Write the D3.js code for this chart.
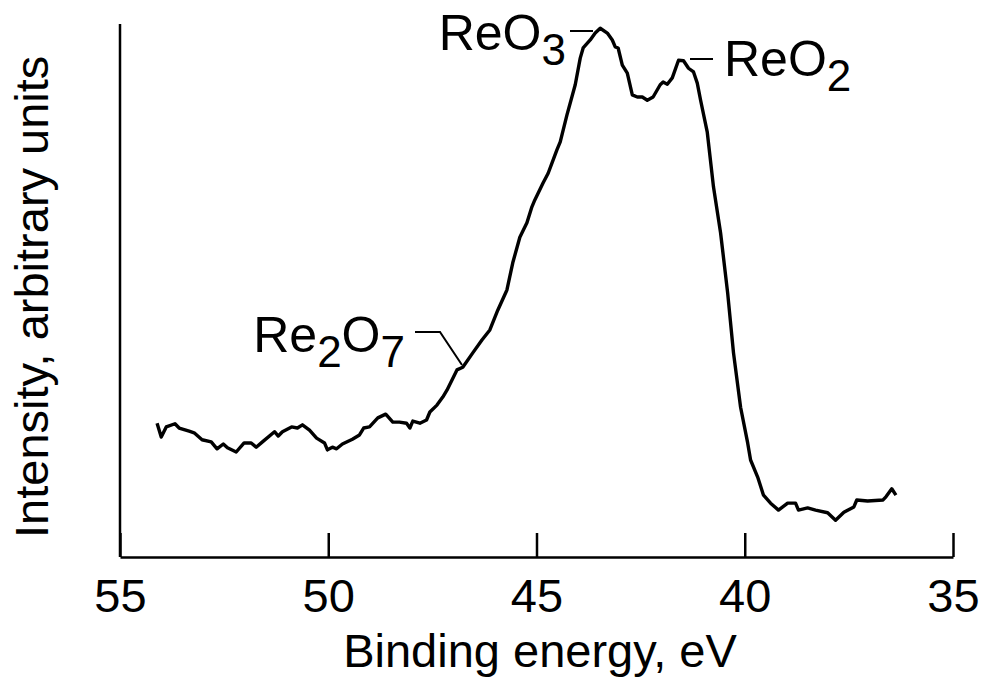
<!DOCTYPE html>
<html><head><meta charset="utf-8">
<script src="https://cdn.jsdelivr.net/npm/d3@7"></script>
<style>html,body{margin:0;padding:0;background:#fff;}svg{display:block;}</style>
</head><body>
<svg id="chart" width="990" height="679"></svg>
<script>
// Binding energy (eV)
const energy = [54.11,54.01,53.89,53.68,53.58,53.34,53.22,53.03,52.81,52.67,52.52,52.42,52.21,52.02,51.85,51.73,51.58,51.29,51.20,51.10,50.88,50.74,50.62,50.45,50.28,50.09,50.02,49.90,49.80,49.66,49.42,49.25,49.15,49.01,48.81,48.62,48.45,48.29,48.12,48.04,47.97,47.80,47.64,47.56,47.39,47.25,47.15,46.91,46.77,46.53,46.31,46.12,45.93,45.71,45.57,45.40,45.23,45.11,45.04,44.84,44.72,44.60,44.51,44.43,44.27,44.07,43.95,43.88,43.71,43.59,43.47,43.30,43.18,43.11,43.04,42.94,42.82,42.70,42.58,42.46,42.34,42.20,42.03,41.96,41.86,41.74,41.59,41.47,41.35,41.23,41.14,41.06,40.90,40.75,40.58,40.41,40.27,40.10,39.93,39.86,39.69,39.55,39.38,39.19,38.97,38.78,38.71,38.49,38.30,38.01,37.82,37.62,37.38,37.31,37.05,36.68,36.61,36.47,36.37];
// Intensity (arbitrary units, 0-100)
const intensity = [25.1,22.5,24.4,25.0,24.2,23.6,23.3,22.0,21.6,20.3,21.2,20.5,19.7,21.4,21.4,20.6,21.6,23.5,22.7,23.5,24.4,24.2,24.8,23.8,22.3,21.4,20.1,20.6,20.3,21.2,22.1,22.9,24.2,24.4,26.1,26.8,25.3,25.3,25.1,24.2,25.5,25.1,25.7,27.2,28.5,30.0,31.3,35.1,35.6,38.3,40.7,42.6,46.3,50.1,55.2,60.0,62.7,65.7,67.0,70.2,72.0,74.5,76.4,77.9,82.9,88.6,93.6,95.5,97.0,98.3,99.2,98.3,97.0,95.7,95.5,92.3,90.8,86.7,86.3,86.3,85.7,86.3,88.6,89.1,88.7,89.9,93.2,93.1,91.7,91.0,88.9,85.7,79.7,69.4,60.8,49.5,38.3,28.1,21.4,18.2,15.0,11.6,10.1,8.8,10.1,10.1,8.8,9.2,8.8,8.3,6.9,8.4,9.4,10.7,10.5,10.7,11.3,12.8,11.6];
const xTicks = [55, 50, 45, 40, 35];
const xTitle = "Binding energy, eV";
const yTitle = "Intensity, arbitrary units";

const svg = d3.select("#chart");
const x = d3.scaleLinear().domain([55, 35]).range([120, 953]);
const y = d3.scaleLinear().domain([0, 100]).range([557, 24]);
const font = "'Liberation Sans', Arial, Helvetica, sans-serif";

// axes
const xAxis = d3.axisBottom(x).tickValues(xTicks).tickSize(-24).tickSizeOuter(0).tickFormat(d3.format("d"));
const gx = svg.append("g").attr("transform", "translate(0,557)").call(xAxis);
gx.select(".domain").attr("stroke", "#000").attr("stroke-width", 2.5);
gx.selectAll(".tick line").attr("stroke", "#000").attr("stroke-width", 2.5);
gx.selectAll(".tick text").attr("y", 55).attr("dy", 0).attr("font-family", font).attr("font-size", 47).attr("fill", "#000");

svg.append("line").attr("x1", x(55)).attr("x2", x(55)).attr("y1", 557).attr("y2", y(100)).attr("stroke", "#000").attr("stroke-width", 2.5);

svg.append("text").attr("x", 540).attr("y", 667).attr("text-anchor", "middle")
  .attr("font-family", font).attr("font-size", 47).text(xTitle);
svg.append("text").attr("transform", "translate(48,538) rotate(-90)").attr("text-anchor", "start")
  .attr("font-family", font).attr("font-size", 47).text(yTitle);

// spectrum
const pts = energy.map((e, i) => [e, intensity[i]]);
svg.append("path").datum(pts)
  .attr("d", d3.line().x(d => x(d[0])).y(d => y(d[1])))
  .attr("fill", "none").attr("stroke", "#000").attr("stroke-width", 3.4).attr("stroke-linejoin", "round");

// annotations
function chem(tx, ty, parts, anchor) {
  const t = svg.append("text").attr("x", tx).attr("y", ty).attr("text-anchor", anchor)
    .attr("font-family", font).attr("font-size", 50);
  parts.forEach(p => {
    const s = t.append("tspan").text(p.t);
    if (p.sub) s.attr("font-size", 44).attr("dy", 15);
    else if (p.after) s.attr("dy", -15);
  });
}
chem(566, 50, [{t:"ReO"},{t:"3",sub:true}], "end");
chem(724, 76, [{t:"ReO"},{t:"2",sub:true}], "start");
chem(405, 352, [{t:"Re"},{t:"2",sub:true},{t:"O",after:true},{t:"7",sub:true}], "end");

const lead = d3.line();
svg.append("path").attr("d", lead([[570,31],[593,31]])).attr("stroke","#000").attr("stroke-width",2).attr("fill","none");
svg.append("path").attr("d", lead([[690,59],[713,59]])).attr("stroke","#000").attr("stroke-width",2).attr("fill","none");
svg.append("path").attr("d", lead([[415,332],[440,332],[462,365]])).attr("stroke","#000").attr("stroke-width",2).attr("fill","none");
</script>
</body></html>
